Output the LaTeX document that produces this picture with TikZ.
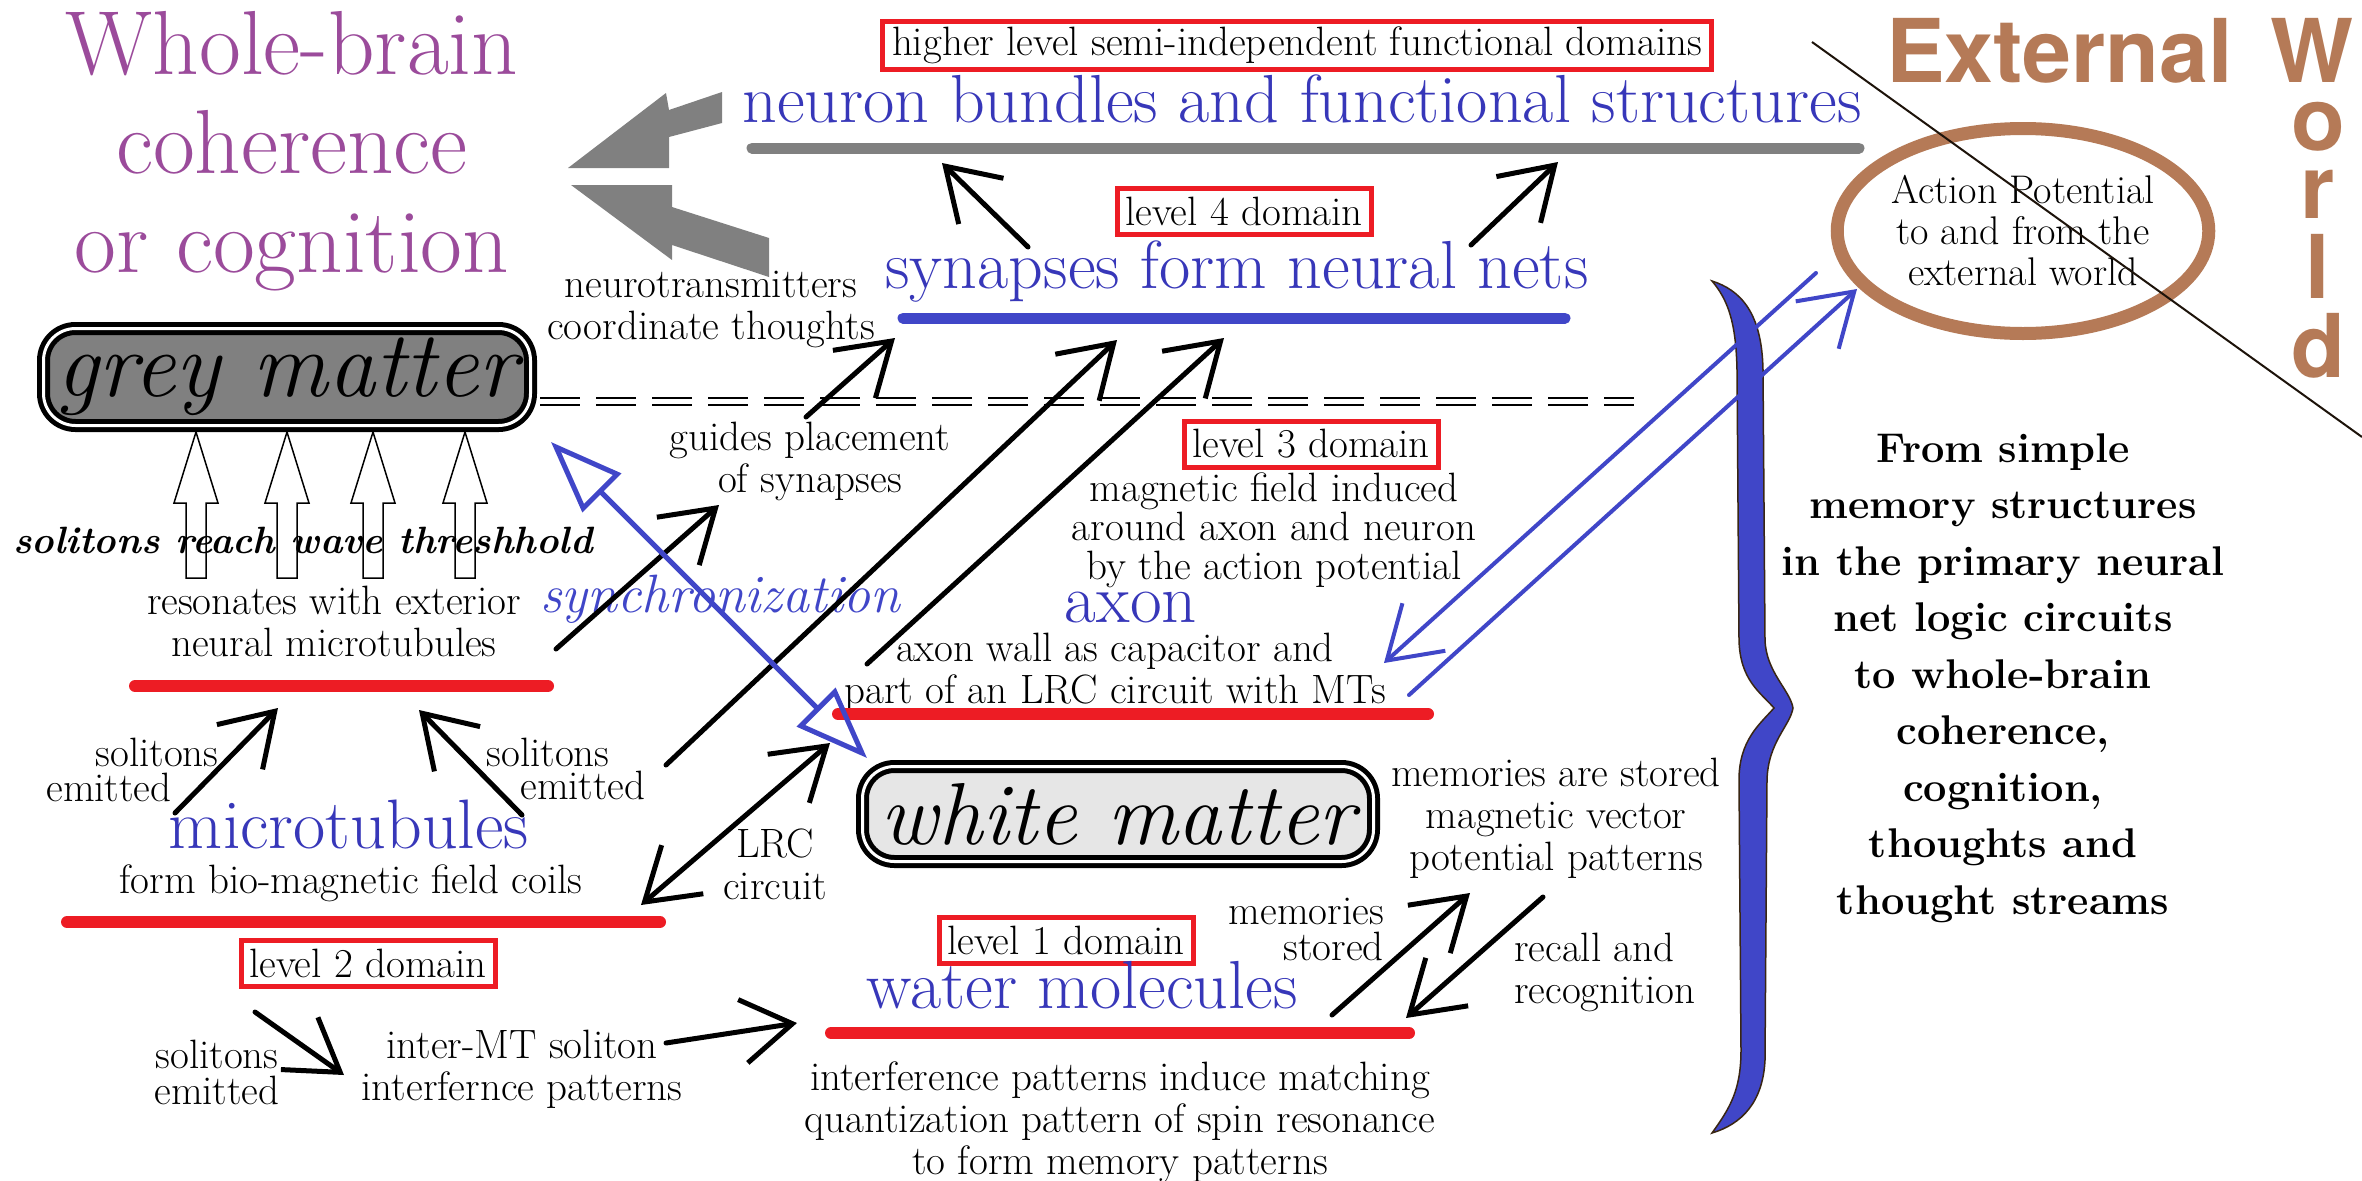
\documentclass[tikz,border=0pt]{standalone}
\usepackage{fontspec}
\newfontfamily\extf{TeX Gyre Heros}
\usetikzlibrary{arrows.meta,shapes.geometric}
\newcommand\fsz[2]{\fontsize{#1}{#2}\selectfont}
\definecolor{purp}{RGB}{155,75,155}
\definecolor{blueT}{RGB}{55,55,185}
\definecolor{blueL}{RGB}{64,70,200}
\definecolor{redC}{RGB}{237,28,36}
\definecolor{grayC}{RGB}{128,128,128}
\definecolor{lgray}{RGB}{230,230,230}
\definecolor{brownC}{RGB}{181,122,87}
\begin{document}
\begin{tikzpicture}[x=1pt,y=-1pt,
  lblS/.style={font=\fsz{41}{42}, align=center, inner sep=0pt},
  headS/.style={font=\fsz{68}{72}, text=blueT, inner sep=0pt, anchor=base},
  domS/.style={draw=redC, line width=5pt, font=\fsz{41}{42}, inner sep=0pt, minimum width=254pt, minimum height=46pt},
  ruleS/.style={line width=12pt, line cap=round},
  barbS/.style={line width=5pt, line cap=round, -{Straight Barb[length=50pt,width=64pt]}},
  dbarbS/.style={line width=5pt, {Straight Barb[length=50pt,width=64pt]}-{Straight Barb[length=50pt,width=64pt]}},
  matterS/.style={draw=black, line width=5pt, double=white, double distance=3pt, rounded corners=32pt, inner sep=0pt},
  extS/.style={font=\extf\bfseries\fsz{88}{88}, text=brownC, inner sep=0pt}
]
\fill[white] (0,0) rectangle (2362,1181);
\useasboundingbox (0,0) rectangle (2362,1181);

% ---------- title left ----------
\node[font=\fsz{91}{99}, text=purp, align=center, inner sep=0pt] (whole) at (292,151) {Whole-brain\\coherence\\or cognition};

% big grey arrows
\fill[grayC] (568,168) -- (666,93) -- (669,110) -- (722,92) -- (722,123) -- (669,137) -- (669,168) -- cycle;
\fill[grayC] (571,185) -- (672,185) -- (672,207) -- (769,238) -- (769,277) -- (672,245) -- (672,260) -- cycle;

% ---------- top ----------
\node[domS, minimum width=829pt, minimum height=48pt] (hl) at (1297,45) {higher level semi-independent functional domains};
\node[headS] (nb) at (1302,122) {neuron bundles and functional structures};
\coordinate (g1) at (752,148); \coordinate (g2) at (1859,148);
\draw[ruleS, line width=11pt, grayC] (g1) -- (g2);

\node[domS] (l4) at (1244,211) {level 4 domain};
\node[headS] (syn) at (1237,288) {synapses form neural nets};
\coordinate (b1) at (903,318); \coordinate (b2) at (1565,318);
\draw[ruleS, line width=11pt, blueL] (b1) -- (b2);

\coordinate (l4a) at (1028,247); \coordinate (l4ah) at (942,163);
\coordinate (l4b) at (1471,245); \coordinate (l4bh) at (1558,162);
\draw[barbS] (l4a) -- (l4ah);
\draw[barbS] (l4b) -- (l4bh);

\node[lblS] (nt) at (711,309) {neurotransmitters\\coordinate thoughts};

% ---------- grey matter ----------
\node[matterS, fill=grayC, minimum width=487pt, minimum height=97pt, font=\fsz{94}{94}\itshape] (grey) at (287,377) {grey matter};
\coordinate (dl1) at (540,401); \coordinate (dl2) at (1634,401);
\draw[line width=2pt, double=white, double distance=5pt, dash pattern=on 40pt off 16pt] (dl1) -- (dl2);

% white block arrows
\foreach \ax in {196,287,373,465}{
  \draw[line width=1.5pt, fill=white] (\ax,432) -- (\ax+22,503) -- (\ax+10,503) -- (\ax+10,578) -- (\ax-10,578) -- (\ax-10,503) -- (\ax-22,503) -- cycle;
}
\node[font=\fsz{38}{38}\bfseries\itshape, inner sep=0pt] (thr) at (303,540) {solitons reach wave threshhold};

\node[lblS] (gp) at (810,461) {guides placement\\of synapses};
\node[lblS] (res) at (334,621) {resonates with exterior\\neural microtubules};
\coordinate (r1a) at (135,686); \coordinate (r1b) at (548,686);
\draw[ruleS, redC] (r1a) -- (r1b);

\node[font=\fsz{54}{54}\itshape, text=blueL, inner sep=0pt] (sync) at (720,599) {synchronization};

% ---------- microtubules ----------
\node[lblS] (sol1a) at (157,752) {solitons};
\node[lblS] (sol1b) at (109,787) {emitted};
\node[lblS] (sol2a) at (548,752) {solitons};
\node[lblS] (sol2b) at (583,785) {emitted};
\node[headS, font=\fsz{70}{72}] (mt) at (349,848) {microtubules};
\node[lblS] (coils) at (351,883) {form bio-magnetic field coils};
\coordinate (r2a) at (67,922); \coordinate (r2b) at (660,922);
\draw[ruleS, redC] (r2a) -- (r2b);
\node[domS] (l2) at (368,963) {level 2 domain};
\node[lblS] (LRC) at (775,864) {LRC\\circuit};

\node[lblS, font=\fsz{41}{36}] (sol3) at (217,1072) {solitons\\emitted};
\node[lblS] (imt) at (522,1069) {inter-MT soliton\\interfernce patterns};

% ---------- axon ----------
\node[domS] (l3) at (1311,444) {level 3 domain};
\node[lblS, font=\fsz{41}{39}] (mag) at (1274,530) {magnetic field induced\\around axon and neuron\\by the action potential};
\node[headS, font=\fsz{69}{72}] (axon) at (1131,622) {axon};
\node[lblS] (wall) at (1115,672) {axon wall as capacitor and\\part of an LRC circuit with MTs};
\coordinate (r3a) at (838,714); \coordinate (r3b) at (1428,714);
\draw[ruleS, redC] (r3a) -- (r3b);

% ---------- white matter ----------
\node[matterS, fill=lgray, minimum width=511pt, minimum height=95pt, font=\fsz{88}{88}\itshape] (white) at (1118,814) {white matter};
\node[lblS] (mas) at (1556,818) {memories are stored\\magnetic vector\\potential patterns};
\node[lblS, font=\fsz{41}{36}, align=right, anchor=east] (mst) at (1384,929) {memories\\stored};
\node[lblS, align=left, anchor=west] (rec) at (1514,972) {recall and\\recognition};

\node[domS] (l1) at (1066,940) {level 1 domain};
\node[headS] (water) at (1082,1008) {water molecules};
\coordinate (r4a) at (831,1033); \coordinate (r4b) at (1409,1033);
\draw[ruleS, redC] (r4a) -- (r4b);
\node[lblS] (intf) at (1120,1122) {interference patterns induce matching\\quantization pattern of spin resonance\\to form memory patterns};

% ---------- black arrows ----------
\coordinate (gpa) at (806,417); \coordinate (gph) at (895,338);
\coordinate (lg1) at (666,765); \coordinate (lg1h) at (1117,340);
\coordinate (lg2) at (867,664); \coordinate (lg2h) at (1224,338);
\coordinate (rsa) at (556,649); \coordinate (rsh) at (719,505);
\coordinate (se1) at (175,813); \coordinate (se1h) at (278,708);
\coordinate (se2) at (522,815); \coordinate (se2h) at (419,710);
\coordinate (lrc1) at (641,905); \coordinate (lrc2) at (830,743);
\coordinate (se3) at (255,1012); \coordinate (se3h) at (344,1075);
\coordinate (ima) at (666,1043); \coordinate (imh) at (797,1023);
\coordinate (msa) at (1332,1015); \coordinate (msh) at (1470,893);
\coordinate (rca) at (1543,897); \coordinate (rch) at (1406,1018);
\draw[barbS] (gpa) -- (gph);
\draw[barbS] (lg1) -- (lg1h);
\draw[barbS] (lg2) -- (lg2h);
\draw[barbS] (rsa) -- (rsh);
\draw[barbS] (se1) -- (se1h);
\draw[barbS] (se2) -- (se2h);
\draw[dbarbS] (lrc1) -- (lrc2);
\draw[barbS] (se3) -- (se3h);
\draw[barbS] (ima) -- (imh);
\draw[barbS] (msa) -- (msh);
\draw[barbS] (rca) -- (rch);

% synchronization double arrow
\coordinate (sy1) at (551,442); \coordinate (sy2) at (867,758);
\draw[blueL, line width=5pt, {Triangle[open,length=72pt,width=54pt]}-{Triangle[open,length=72pt,width=54pt]}] (sy1) -- (sy2);

% ---------- right side ----------
\node[extS, anchor=base west] (ext) at (1886,82) {External};
\node[extS, anchor=base west] (wW) at (2270,82) {W};
\node[extS, anchor=base] (wo) at (2318,150) {o};
\node[extS, anchor=base] (wr) at (2318,218) {r};
\node[extS, anchor=base] (wl) at (2318,298) {l};
\node[extS, anchor=base] (wd) at (2318,377) {d};

\node[ellipse, draw=brownC, line width=13pt, minimum width=351pt, minimum height=205pt, inner sep=0pt, font=\fsz{40}{41}, align=center] (ap) at (2023,231) {Action Potential\\to and from the\\external world};
\coordinate (dg1) at (1812,42); \coordinate (dg2) at (2362,437);
\draw[line width=2pt, black!85!brown] (dg1) -- (dg2);

% brace
\fill[blueL, draw=black!70!brown, line width=1.5pt]
  (1712,281) .. controls (1740,290) and (1762,312) .. (1763,370)
  -- (1765,640) .. controls (1766,672) and (1790,690) .. (1793,708)
  .. controls (1790,726) and (1768,742) .. (1767,780)
  -- (1765,1060) .. controls (1763,1102) and (1742,1124) .. (1712,1133)
  .. controls (1730,1108) and (1741,1090) .. (1741,1050)
  -- (1739,780) .. controls (1739,740) and (1760,724) .. (1774,708)
  .. controls (1760,692) and (1740,680) .. (1739,640)
  -- (1737,370) .. controls (1736,322) and (1728,300) .. (1712,281) -- cycle;

% action potential arrows
\coordinate (apA) at (1816,273); \coordinate (apAh) at (1384,663);
\coordinate (apB) at (1409,695); \coordinate (apBh) at (1857,289);
\draw[barbS, blueL, line width=4pt] (apA) -- (apAh);
\draw[barbS, blueL, line width=4pt] (apB) -- (apBh);

\node[font=\bfseries\fsz{41.5}{56.5}, align=center, inner sep=0pt] (from) at (2003,678) {From simple\\memory structures\\in the primary neural\\net logic circuits\\to whole-brain\\coherence,\\cognition,\\thoughts and\\thought streams};
\end{tikzpicture}
\end{document}
